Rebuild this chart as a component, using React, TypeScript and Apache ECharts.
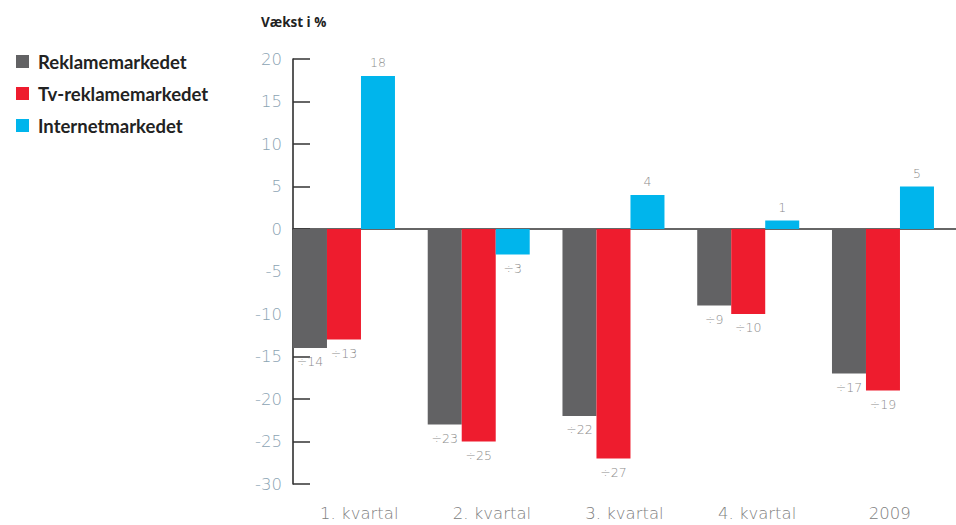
import React, { useEffect, useRef } from "react";
import * as echarts from "echarts";

const categories = ["1. kvartal", "2. kvartal", "3. kvartal", "4. kvartal", "2009"];
const reklame = [-14, -23, -22, -9, -17];
const tvReklame = [-13, -25, -27, -10, -19];
const internet = [18, -3, 4, 1, 5];
const seriesNames = ["Reklamemarkedet", "Tv-reklamemarkedet", "Internetmarkedet"];
const colors = ["#626264", "#ee1c2e", "#00b5ec"];

const fmt = (v: number) => (v < 0 ? "÷" + Math.abs(v) : String(v));
const thinFont = "DejaVu Sans";

export default function App() {
  const ref = useRef<HTMLDivElement>(null);
  useEffect(() => {
    if (!ref.current) return;
    const chart = echarts.init(ref.current, null, { renderer: "svg" });
    const mk = (name: string, vals: number[], color: string) => ({
      name,
      type: "bar",
      xAxisIndex: 0,
      yAxisIndex: 0,
      barWidth: 34,
      barGap: "0%",
      itemStyle: { color },
      data: vals.map((v) => ({
        value: v,
        label: { position: v < 0 ? "bottom" : "top" },
      })),
      label: {
        show: true,
        distance: 7,
        color: "#8c8c8c",
        fontSize: 12.5,
        fontWeight: 200,
        fontFamily: thinFont,
        formatter: (p: any) => fmt(p.value),
      },
    });
    chart.setOption({
      animation: false,
      title: {
        text: "Vækst i %",
        left: 256,
        top: 10,
        textStyle: { fontSize: 13.5, fontWeight: "bold", color: "#222", fontFamily: "Open Sans" },
      },
      legend: {
        orient: "vertical",
        left: 11,
        top: 47,
        itemWidth: 13,
        itemHeight: 13,
        itemGap: 13,
        icon: "rect",
        textStyle: { fontSize: 18.5, fontWeight: "bold", color: "#222", fontFamily: "Lato", padding: [0, 0, 0, 4] },
        data: seriesNames,
      },
      grid: [
        { left: 276.6, right: 5.65, top: 59, bottom: 41 },
        { left: 293, right: 0, top: 59, bottom: 41 },
      ],
      xAxis: [
        {
          type: "category",
          gridIndex: 0,
          data: categories,
          axisLine: { show: false },
          axisTick: { show: false },
          axisLabel: { show: false },
        },
        {
          type: "category",
          gridIndex: 1,
          position: "bottom",
          data: categories,
          axisLine: { show: false, onZero: false },
          axisTick: { show: false },
          axisLabel: { color: "#808080", fontSize: 16.5, fontFamily: thinFont, fontWeight: 200, margin: 21 },
        },
        {
          type: "category",
          gridIndex: 1,
          position: "top",
          data: categories,
          axisLine: { show: true, onZero: true, lineStyle: { color: "#333", width: 1.5 } },
          axisTick: { show: false },
          axisLabel: { show: false },
        },
      ],
      yAxis: [
        {
          type: "value",
          gridIndex: 0,
          min: -30,
          max: 20,
          interval: 5,
          show: false,
          splitLine: { show: false },
        },
        {
          type: "value",
          gridIndex: 1,
          min: -30,
          max: 20,
          interval: 5,
          axisLine: { show: true, lineStyle: { color: "#222", width: 1.5 } },
          axisTick: { show: true, inside: true, length: 17, lineStyle: { color: "#333", width: 1.5 } },
          axisLabel: { color: "#8ba3b3", fontSize: 16.5, fontFamily: thinFont, fontWeight: 200, margin: 11 },
          splitLine: { show: false },
        },
      ],
      series: [
        mk(seriesNames[0], reklame, colors[0]),
        mk(seriesNames[1], tvReklame, colors[1]),
        mk(seriesNames[2], internet, colors[2]),
      ],
    });
    return () => chart.dispose();
  }, []);
  return <div ref={ref} style={{ width: 956, height: 525, position: "absolute", left: 0, top: 0 }} />;
}
